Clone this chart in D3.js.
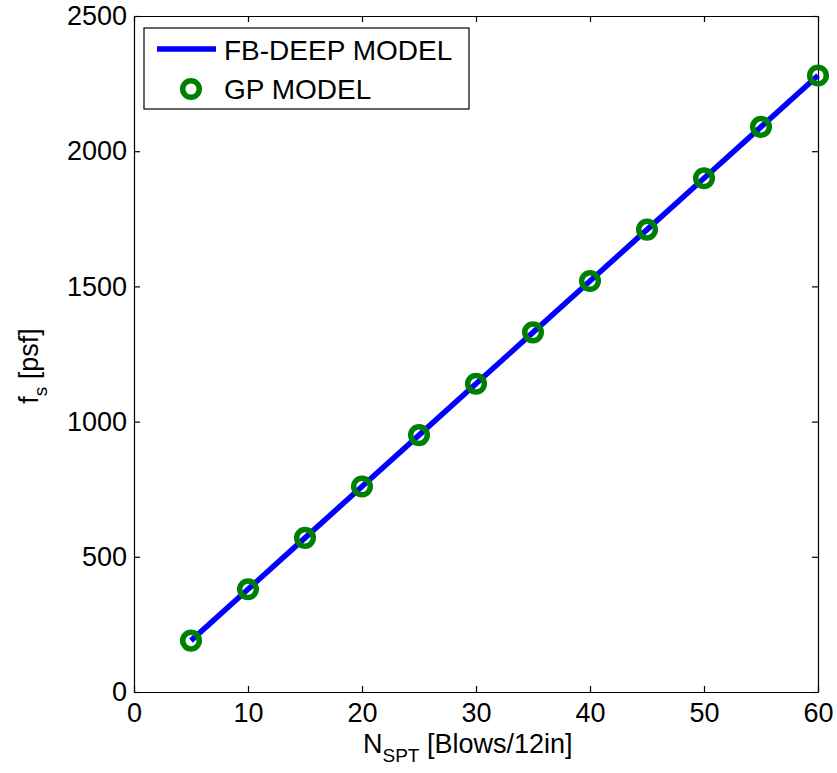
<!DOCTYPE html>
<meta charset="utf-8">
<style>
  body { margin: 0; background: #fff; }
  text { font-family: "Liberation Sans", Arial, sans-serif; fill: #000; }
  .axis path, .axis line { stroke: #000; stroke-width: 1.2; }
  .axis text { font-size: 27px; font-family: "Liberation Sans", Arial, sans-serif; }
</style>
<body>
<script src="https://d3js.org/d3.v7.min.js"></script>
<script>
  var nspt = [5, 10, 15, 20, 25, 30, 35, 40, 45, 50, 55, 60];
  var fbDeep = [190, 380, 570, 760, 950, 1140, 1330, 1520, 1710, 1900, 2090, 2280];
  var gpModel = [190, 380, 570, 760, 950, 1140, 1330, 1520, 1710, 1900, 2090, 2280];
  var xTicks = [0, 10, 20, 30, 40, 50, 60];
  var yTicks = [0, 500, 1000, 1500, 2000, 2500];

  var width = 837, height = 773;
  var plotLeft = 134, plotRight = 818, plotTop = 16, plotBottom = 692;

  var x = d3.scaleLinear().domain([0, 60]).range([plotLeft, plotRight]);
  var y = d3.scaleLinear().domain([0, 2500]).range([plotBottom, plotTop]);

  var svg = d3.select("body").append("svg")
    .attr("width", width)
    .attr("height", height);

  // axes, ticks pointing inward like matlab's box
  svg.append("g").attr("class", "axis")
    .attr("transform", "translate(0," + plotBottom + ")")
    .call(d3.axisBottom(x).tickValues(xTicks).tickFormat(d3.format("d"))
      .tickSizeInner(-6).tickSizeOuter(0).tickPadding(11));
  svg.append("g").attr("class", "axis")
    .attr("transform", "translate(0," + plotTop + ")")
    .call(d3.axisTop(x).tickValues(xTicks).tickSizeInner(-6).tickSizeOuter(0).tickFormat(""));
  svg.append("g").attr("class", "axis")
    .attr("transform", "translate(" + plotLeft + ",0)")
    .call(d3.axisLeft(y).tickValues(yTicks).tickFormat(d3.format("d"))
      .tickSizeInner(-6).tickSizeOuter(0).tickPadding(7));
  svg.append("g").attr("class", "axis")
    .attr("transform", "translate(" + plotRight + ",0)")
    .call(d3.axisRight(y).tickValues(yTicks).tickSizeInner(-6).tickSizeOuter(0).tickFormat(""));

  var pts = nspt.map(function (n, i) { return [n, fbDeep[i]]; });
  svg.append("path")
    .datum(pts)
    .attr("fill", "none")
    .attr("stroke", "#0000ff")
    .attr("stroke-width", 5.5)
    .attr("d", d3.line().x(function (d) { return x(d[0]); }).y(function (d) { return y(d[1]); }));

  svg.selectAll("circle.gp")
    .data(nspt)
    .enter().append("circle")
    .attr("class", "gp")
    .attr("cx", function (d) { return x(d); })
    .attr("cy", function (d, i) { return y(gpModel[i]); })
    .attr("r", 8.3)
    .attr("fill", "none")
    .attr("stroke", "#008000")
    .attr("stroke-width", 5.5);

  // legend
  var lg = svg.append("g");
  lg.append("rect")
    .attr("x", 144).attr("y", 28).attr("width", 325).attr("height", 81)
    .attr("fill", "#fff").attr("stroke", "#000").attr("stroke-width", 1.2);
  lg.append("line")
    .attr("x1", 157).attr("x2", 216).attr("y1", 49).attr("y2", 49)
    .attr("stroke", "#0000ff").attr("stroke-width", 5.5);
  lg.append("circle")
    .attr("cx", 191).attr("cy", 89).attr("r", 8.3)
    .attr("fill", "none").attr("stroke", "#008000").attr("stroke-width", 5.5);
  lg.append("text").attr("x", 224).attr("y", 60).style("font-size", "28px").text("FB-DEEP MODEL");
  lg.append("text").attr("x", 224).attr("y", 99).style("font-size", "28px").text("GP MODEL");

  // axis labels
  var xl = svg.append("text")
    .attr("x", 363).attr("y", 753)
    .style("font-size", "27px");
  xl.append("tspan").text("N");
  xl.append("tspan").attr("dy", 9).style("font-size", "19px").text("SPT");
  xl.append("tspan").attr("dy", -9).text(" [Blows/12in]");

  var yl = svg.append("text")
    .attr("transform", "translate(38,366) rotate(-90)")
    .attr("text-anchor", "middle")
    .style("font-size", "27px");
  yl.append("tspan").text("f");
  yl.append("tspan").attr("dy", 9).style("font-size", "19px").text("s");
  yl.append("tspan").attr("dy", -9).text(" [psf]");
</script>
</body>
